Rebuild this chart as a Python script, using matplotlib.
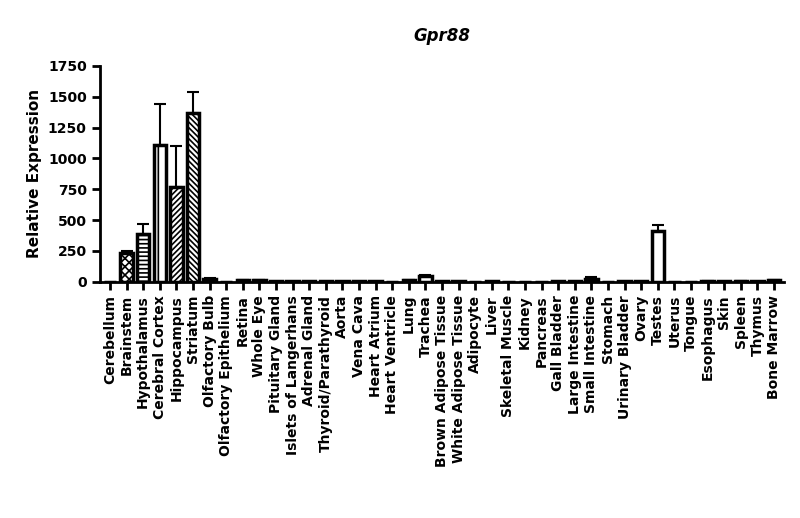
import numpy as np
import matplotlib
matplotlib.use("Agg")
import matplotlib.pyplot as plt

tissues = ["Cerebellum", "Brainstem", "Hypothalamus", "Cerebral Cortex", "Hippocampus", "Striatum",
           "Olfactory Bulb", "Olfactory Epithelium", "Retina", "Whole Eye", "Pituitary Gland",
           "Islets of Langerhans", "Adrenal Gland", "Thyroid/Parathyroid", "Aorta", "Vena Cava",
           "Heart Atrium", "Heart Ventricle", "Lung", "Trachea", "Brown Adipose Tissue",
           "White Adipose Tissue", "Adipocyte", "Liver", "Skeletal Muscle", "Kidney", "Pancreas",
           "Gall Bladder", "Large Intestine", "Small Intestine", "Stomach", "Urinary Bladder",
           "Ovary", "Testes", "Uterus", "Tongue", "Esophagus", "Skin", "Spleen", "Thymus", "Bone Marrow"]
values = [2, 230, 390, 1110, 770, 1365, 25, 2, 15, 12, 3, 3, 3, 3, 5, 5, 5, 2, 12, 45, 5, 5,
          2, 3, 2, 2, 2, 3, 3, 20, 2, 5, 5, 410, 2, 2, 8, 3, 8, 3, 15]
errors = [0, 20, 75, 330, 330, 170, 5, 0, 3, 3, 0, 0, 0, 0, 0, 0, 0, 0, 3, 8, 0, 0,
          0, 0, 0, 0, 0, 0, 0, 15, 0, 0, 0, 50, 0, 0, 2, 0, 2, 0, 3]
hatches = ["", "xxxx", "----", "|", "//////", "\\\\\\\\\\\\"] + [""] * 35

plt.rcParams["hatch.linewidth"] = 1.2
fig = plt.figure(figsize=(8, 5.18), dpi=100)
ax = fig.add_axes([0.125, 0.456, 0.855, 0.417])
x = np.arange(len(tissues))
for i in x:
    ax.bar(i, values[i], width=0.75, color="white", edgecolor="black", linewidth=2.5, hatch=hatches[i])
    if errors[i] > 0:
        ax.errorbar(i, values[i], yerr=[[0], [errors[i]]], fmt="none", ecolor="black",
                    elinewidth=1.5, capsize=4, capthick=1.5)
ax.set_xlim(-0.6, len(tissues) - 0.4)
ax.set_ylim(0, 1750)
ax.set_yticks(range(0, 1751, 250))
ax.set_xticks(x)
ax.set_xticklabels(tissues, rotation=90, fontsize=10, fontweight="bold")
for lab in ax.get_yticklabels():
    lab.set_fontweight("bold")
ax.tick_params(width=2, length=6, labelsize=10)
ax.set_ylabel("Relative Expression", fontsize=11, fontweight="bold")
ax.set_title("Gpr88", fontsize=12, fontweight="bold", style="italic", pad=18)
for s in ["top", "right"]:
    ax.spines[s].set_visible(False)
for s in ["left", "bottom"]:
    ax.spines[s].set_linewidth(2)
fig.savefig("out.png", dpi=100)
